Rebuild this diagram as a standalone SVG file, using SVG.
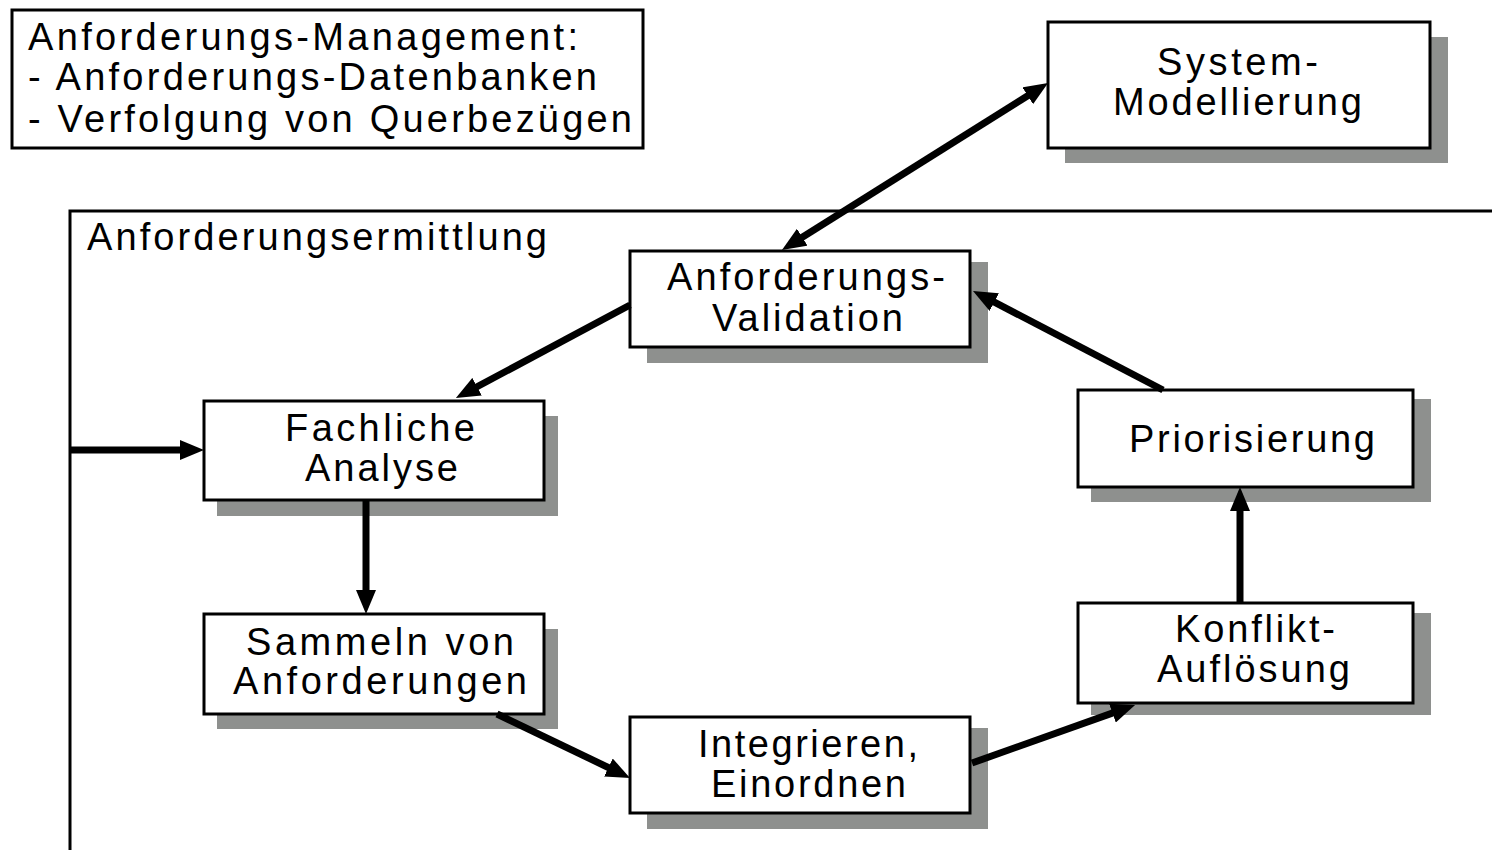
<svg xmlns="http://www.w3.org/2000/svg" width="1492" height="850" viewBox="0 0 1492 850">
<style>
text{font-family:"Liberation Sans",Arial,sans-serif;font-size:38px;fill:#000}
.box{fill:#fff;stroke:#000;stroke-width:3}
.sh{fill:#8e908e}
.con{stroke:#000;stroke-width:7;fill:none}
.frame{stroke:#000;stroke-width:3;fill:none}
</style>
<defs>
<marker id="ah" markerUnits="userSpaceOnUse" markerWidth="24" markerHeight="20" viewBox="0 0 24 20" refX="8" refY="10" orient="auto-start-reverse">
<path d="M0,0 L24,10 L0,20 z" fill="#000"/>
</marker>
</defs>
<rect width="1492" height="850" fill="#fff"/>

<g id="management">
<rect class="box" x="12" y="10" width="631" height="138"/>
<text x="28" y="50" textLength="550" lengthAdjust="spacing">Anforderungs-Management:</text>
<text x="28" y="90" textLength="569" lengthAdjust="spacing">- Anforderungs-Datenbanken</text>
<text x="28" y="132" textLength="604" lengthAdjust="spacing">- Verfolgung von Querbezügen</text>
</g>

<g id="ermittlung">
<path class="frame" d="M1492,211 H70 V850"/>
<text x="87" y="250" textLength="460" lengthAdjust="spacing">Anforderungsermittlung</text>
</g>

<g id="system">
<rect class="sh" x="1065" y="37" width="383" height="126"/>
<rect class="box" x="1048" y="22" width="382" height="126"/>
<text x="1157" y="75" textLength="161" lengthAdjust="spacing">System-</text>
<text x="1113" y="115" textLength="249" lengthAdjust="spacing">Modellierung</text>
</g>

<g id="validation">
<rect class="sh" x="647" y="262" width="341" height="101"/>
<rect class="box" x="630" y="251" width="340" height="96"/>
<text x="667" y="290" textLength="278" lengthAdjust="spacing">Anforderungs-</text>
<text x="712" y="331" textLength="191" lengthAdjust="spacing">Validation</text>
</g>

<g id="fachliche">
<rect class="sh" x="217" y="416" width="341" height="100"/>
<rect class="box" x="204" y="401" width="340" height="99"/>
<text x="285" y="441" textLength="190" lengthAdjust="spacing">Fachliche</text>
<text x="305" y="481" textLength="153" lengthAdjust="spacing">Analyse</text>
</g>

<g id="sammeln">
<rect class="sh" x="217" y="629" width="341" height="100"/>
<rect class="box" x="204" y="614" width="340" height="100"/>
<text x="246" y="655" textLength="268" lengthAdjust="spacing">Sammeln von</text>
<text x="233" y="694" textLength="294" lengthAdjust="spacing">Anforderungen</text>
</g>

<g id="integrieren">
<rect class="sh" x="647" y="728" width="341" height="101"/>
<rect class="box" x="630" y="717" width="340" height="96"/>
<text x="698" y="757" textLength="220" lengthAdjust="spacing">Integrieren,</text>
<text x="711" y="797" textLength="195" lengthAdjust="spacing">Einordnen</text>
</g>

<g id="konflikt">
<rect class="sh" x="1091" y="613" width="340" height="102"/>
<rect class="box" x="1078" y="603" width="335" height="100"/>
<text x="1175" y="642" textLength="160" lengthAdjust="spacing">Konflikt-</text>
<text x="1157" y="682" textLength="193" lengthAdjust="spacing">Auflösung</text>
</g>

<g id="priorisierung">
<rect class="sh" x="1091" y="399" width="340" height="103"/>
<rect class="box" x="1078" y="390" width="335" height="97"/>
<text x="1129" y="452" textLength="246" lengthAdjust="spacing">Priorisierung</text>
</g>

<g id="connectors">
<line class="con" x1="70" y1="450" x2="188" y2="450" marker-end="url(#ah)"/>
<line class="con" x1="630" y1="305" x2="470" y2="390.5" marker-end="url(#ah)"/>
<line class="con" x1="366" y1="500" x2="366" y2="598" marker-end="url(#ah)"/>
<line class="con" x1="497" y1="714" x2="615.6" y2="771" marker-end="url(#ah)"/>
<line class="con" x1="972" y1="763" x2="1120" y2="710.4" marker-end="url(#ah)"/>
<line class="con" x1="1240" y1="603" x2="1240" y2="503" marker-end="url(#ah)"/>
<line class="con" x1="1163" y1="390" x2="987.2" y2="298.4" marker-end="url(#ah)"/>
<line class="con" x1="795.5" y1="241.5" x2="1034.5" y2="91.5" marker-start="url(#ah)" marker-end="url(#ah)"/>
</g>
</svg>
